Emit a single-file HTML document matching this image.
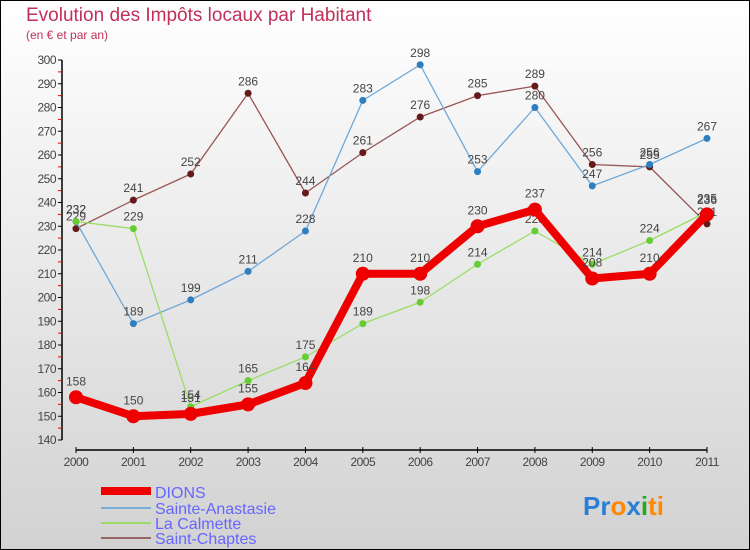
<!DOCTYPE html>
<html><head><meta charset="utf-8"><style>
body{margin:0;}
svg{display:block;font-family:"Liberation Sans",sans-serif;}
</style></head><body>
<svg id="c" width="750" height="550" xmlns="http://www.w3.org/2000/svg">
<defs><linearGradient id="bg" x1="0" y1="0" x2="0" y2="1"><stop offset="0" stop-color="#ffffff"/><stop offset="1" stop-color="#d2d2d2"/></linearGradient></defs>
<rect x="0.5" y="0.5" width="749" height="549" fill="url(#bg)" stroke="#000"/>
<text x="26" y="21" font-size="19" fill="#c0305a">Evolution des Impôts locaux par Habitant</text>
<text x="26" y="39" font-size="12" fill="#c0305a">(en € et par an)</text>
<g id="axes"></g><g id="series"></g>
<g>
<line x1="101" y1="491" x2="151" y2="491" stroke="#ee0000" stroke-width="8"/>
<text x="155" y="498" font-size="16" fill="#6666ff">DIONS</text>
<line x1="101" y1="508" x2="151" y2="508" stroke="#7aaed6" stroke-width="2"/>
<text x="155" y="514" font-size="16" fill="#6666ff">Sainte-Anastasie</text>
<line x1="101" y1="523" x2="151" y2="523" stroke="#99dd66" stroke-width="2"/>
<text x="155" y="529" font-size="16" fill="#6666ff">La Calmette</text>
<line x1="101" y1="538" x2="151" y2="538" stroke="#996666" stroke-width="2"/>
<text x="155" y="544" font-size="16" fill="#6666ff">Saint-Chaptes</text>
</g>
<g font-size="26" font-weight="bold">
<text x="583" y="515"><tspan fill="#2a7fd4">Pr</tspan><tspan fill="#ff8800">o</tspan><tspan fill="#2a7fd4">x</tspan><tspan fill="#22aa22">i</tspan><tspan fill="#ff8800">ti</tspan></text>
</g>
</svg>
<script>
const years=[2000,2001,2002,2003,2004,2005,2006,2007,2008,2009,2010,2011];
const yTicks=[140,150,160,170,180,190,200,210,220,230,240,250,260,270,280,290,300];
const dions=[158,150,151,155,164,210,210,230,237,208,210,235];
const sainteAnastasie=[232,189,199,211,228,283,298,253,280,247,256,267];
const laCalmette=[232,229,154,165,175,189,198,214,228,214,224,236];
const saintChaptes=[229,241,252,286,244,261,276,285,289,256,255,231];
const NS="http://www.w3.org/2000/svg";
function X(i){return 76+i*(707-76)/(years.length-1);}
function Y(v){return 440-(v-140)*(380/160);}
function mk(tag,attrs,parent){const e=document.createElementNS(NS,tag);for(const k in attrs)e.setAttribute(k,attrs[k]);parent.appendChild(e);return e;}
const ax=document.getElementById('axes');
const yl=mk('line',{x1:62,y1:Y(300),x2:62,y2:Y(140),stroke:'#000','stroke-width':1.5},ax);


yTicks.forEach(v=>{
 mk('line',{x1:58,x2:62,y1:Y(v),y2:Y(v),stroke:'#000'},ax);
 if(v<300)mk('line',{x1:58,x2:62,y1:Y(v+5),y2:Y(v+5),stroke:'#e00'},ax);
 const t=mk('text',{x:56,y:Y(v)+4,'font-size':12,'text-anchor':'end',fill:'#444','letter-spacing':'-0.5'},ax);
 t.textContent=v;
 
 
});
const xl=mk('line',{x1:76,y1:450,x2:707,y2:450,stroke:'#000','stroke-width':1.5},ax);


years.forEach((y,i)=>{
 mk('line',{x1:X(i),x2:X(i),y1:447,y2:453,stroke:'#000'},ax);
 const t=mk('text',{x:X(i),y:466,'font-size':12,'text-anchor':'middle',fill:'#444','letter-spacing':'-0.5'},ax);
 t.textContent=y;
 
 
});
const sg=document.getElementById('series');
function series(vals,name,color,dot,w,r){
 const g=mk('g',{},sg);
 
 
 const pl=mk('polyline',{points:vals.map((v,i)=>X(i)+','+Y(v)).join(' '),fill:'none',stroke:color,'stroke-width':w,'stroke-linejoin':'round'},g);
 
 
 vals.forEach((v,i)=>{
  const c=mk('circle',{cx:X(i),cy:Y(v),r:r,fill:dot},g);
  
  
  const t=mk('text',{x:X(i),y:Y(v)-8-(r>4?4:0),'font-size':12,'text-anchor':'middle',fill:'#444'},g);
  t.textContent=v;
  
  
 });
}
series(saintChaptes,'saint-chaptes','#995555','#661a1a',1.3,3.5);
series(sainteAnastasie,'sainte-anastasie','#6fa8d8','#2e7fc0',1.3,3.5);
series(laCalmette,'la-calmette','#99dd66','#66cc33',1.3,3.5);
series(dions,'dions','#ee0000','#ee0000',8,7);
</script>
</body></html>
